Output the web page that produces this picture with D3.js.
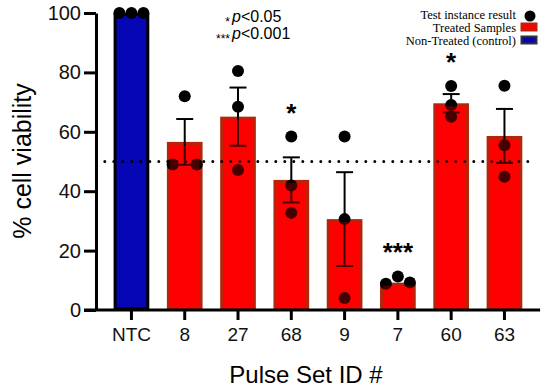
<!DOCTYPE html>
<html>
<head>
<meta charset="utf-8">
<script src="https://cdn.jsdelivr.net/npm/d3@7"></script>
<style>
  body { margin: 0; background: #fff; }
  svg { display: block; }
  .tick text { font-family: "Liberation Sans", Arial, sans-serif; fill: #111; }
</style>
</head>
<body>
<div id="chart"></div>
<script>
const categories = ['NTC', '8', '27', '68', '9', '7', '60', '63'];
const means = [100, 56.6, 65.1, 43.8, 30.6, 9.2, 69.6, 58.6];
const sems = [0, 7.7, 9.8, 7.6, 15.8, 1.0, 3.1, 9.1];
const points = [
    [100, 100, 100],
    [49, 72, 49],
    [80.5, 68.4, 47.1],
    [58.4, 41.9, 32.7],
    [58.4, 30.6, 4.0],
    [8.8, 11.3, 9.3],
    [75.4, 69.0, 65.1],
    [75.5, 55.5, 44.9]
];
const spread = [true, true, false, false, false, true, false, false];
const stars = ['', '', '', '*', '', '***', '*', ''];
const yTicks = [0, 20, 40, 60, 80, 100];
const threshold = 50;

const svgWidth = 550;
const svgHeight = 392;
const axisX = 96;

const svg = d3.select('#chart')
    .append('svg')
    .attr('width', svgWidth)
    .attr('height', svgHeight);

const xScale = d3.scaleBand()
    .domain(categories)
    .range([104.8, 531.1])
    .paddingInner(0.33)
    .paddingOuter(0.165);

const yScale = d3.scaleLinear()
    .domain([0, 100])
    .range([310, 13]);

const cx = d => xScale(d) + xScale.bandwidth() / 2;

// bars
const bars = svg.append('g');
bars.selectAll('rect')
    .data(categories)
    .enter()
    .append('rect')
    .attr('x', d => xScale(d) + 1.5)
    .attr('y', (d, i) => yScale(means[i]) + 1.5)
    .attr('width', xScale.bandwidth() - 3)
    .attr('height', (d, i) => yScale(0) - yScale(means[i]) - 3)
    .attr('fill', (d, i) => i === 0 ? '#0606b4' : '#ff0000')
    .attr('stroke', (d, i) => i === 0 ? '#000' : '#b3260c')
    .attr('stroke-width', 3);

// threshold line
svg.append('line')
    .attr('x1', xScale.range()[0])
    .attr('x2', xScale.range()[1] + 2)
    .attr('y1', yScale(threshold))
    .attr('y2', yScale(threshold))
    .attr('stroke', '#000')
    .attr('stroke-width', 3)
    .attr('stroke-linecap', 'round')
    .attr('stroke-dasharray', '0 9');

// error bars
const err = svg.append('g')
    .attr('stroke', '#000')
    .attr('stroke-width', 2);
categories.forEach((c, i) => {
    if (sems[i] < 2) return;
    const lo = yScale(means[i] - sems[i]);
    const hi = yScale(means[i] + sems[i]);
    err.append('line').attr('x1', cx(c)).attr('x2', cx(c)).attr('y1', lo).attr('y2', hi);
    err.append('line').attr('x1', cx(c) - 8.5).attr('x2', cx(c) + 8.5).attr('y1', hi).attr('y2', hi);
    err.append('line').attr('x1', cx(c) - 8.5).attr('x2', cx(c) + 8.5).attr('y1', lo).attr('y2', lo);
});

// points
const dots = [];
categories.forEach((c, i) => {
    points[i].forEach((v, j) => {
        dots.push({ c: c, v: v, off: spread[i] ? (j - 1) * 12 : 0 });
    });
});
svg.append('g')
    .selectAll('circle')
    .data(dots)
    .enter()
    .append('circle')
    .attr('cx', d => cx(d.c) + d.off)
    .attr('cy', d => yScale(d.v))
    .attr('r', 6)
    .attr('fill', '#000');

// red tint over the parts inside treated bars
svg.append('g')
    .selectAll('rect')
    .data(categories.slice(1))
    .enter()
    .append('rect')
    .attr('x', d => xScale(d) + 3)
    .attr('y', d => yScale(means[categories.indexOf(d)]) + 3)
    .attr('width', xScale.bandwidth() - 6)
    .attr('height', d => yScale(0) - yScale(means[categories.indexOf(d)]) - 6)
    .attr('fill', '#ff0000')
    .attr('opacity', 0.28);

// significance stars
svg.append('g')
    .selectAll('text')
    .data(categories.filter((c, i) => stars[i]))
    .enter()
    .append('text')
    .attr('x', d => cx(d))
    .attr('y', d => yScale(d3.max(points[categories.indexOf(d)])) - 15)
    .attr('text-anchor', 'middle')
    .attr('font-family', 'Liberation Sans, Arial, sans-serif')
    .attr('font-weight', 'bold')
    .attr('font-size', 26)
    .text(d => stars[categories.indexOf(d)]);

// axes
const yAxis = d3.axisLeft(yScale)
    .tickValues(yTicks)
    .tickSize(12)
    .tickSizeOuter(0)
    .tickPadding(3);
const yG = svg.append('g')
    .attr('transform', `translate(${axisX}, 0)`)
    .call(yAxis);
yG.selectAll('line, path').attr('stroke', '#000').attr('stroke-width', 3);
yG.selectAll('text').attr('font-size', 20);

const xAxis = d3.axisBottom(xScale)
    .tickSize(10)
    .tickSizeOuter(0)
    .tickPadding(8);
const xG = svg.append('g')
    .attr('transform', `translate(0, ${yScale(0)})`)
    .call(xAxis);
xG.select('.domain').remove();
xG.selectAll('line').attr('stroke', '#000').attr('stroke-width', 3);
xG.selectAll('text').attr('font-size', 19);
svg.append('line')
    .attr('x1', axisX - 12)
    .attr('x2', xScale.range()[1] + 9)
    .attr('y1', yScale(0))
    .attr('y2', yScale(0))
    .attr('stroke', '#000')
    .attr('stroke-width', 3);

// axis titles
svg.append('text')
    .attr('x', 306)
    .attr('y', 383)
    .attr('text-anchor', 'middle')
    .attr('font-family', 'Liberation Sans, Arial, sans-serif')
    .attr('font-size', 24)
    .text('Pulse Set ID #');

svg.append('text')
    .attr('transform', 'translate(31, 161) rotate(-90)')
    .attr('text-anchor', 'middle')
    .attr('font-family', 'Liberation Sans, Arial, sans-serif')
    .attr('font-size', 25)
    .text('% cell viability');

// p-value notes
const notes = [['*', 'p<0.05'], ['***', 'p<0.001']];
notes.forEach((n, i) => {
    const t = svg.append('text')
        .attr('x', 232)
        .attr('y', 22 + i * 17)
        .attr('font-family', 'Liberation Sans, Arial, sans-serif')
        .attr('font-size', 16);
    t.append('tspan').attr('font-style', 'italic').text('p');
    t.append('tspan').text(n[1].slice(1));
    svg.append('text')
        .attr('x', 230)
        .attr('y', 26 + i * 17)
        .attr('text-anchor', 'end')
        .attr('font-family', 'Liberation Sans, Arial, sans-serif')
        .attr('font-size', 12)
        .text(n[0]);
});

// legend
const legendItems = ['Test instance result', 'Treated Samples', 'Non-Treated (control)'];
const legend = svg.append('g');
legendItems.forEach((label, i) => {
    const y = 19 + i * 13;
    legend.append('text')
        .attr('x', 516)
        .attr('y', y)
        .attr('text-anchor', 'end')
        .attr('font-family', 'Liberation Serif, Times New Roman, serif')
        .attr('font-size', 12.5)
        .text(label);
    if (i === 0) {
        legend.append('circle').attr('cx', 530).attr('cy', y - 3).attr('r', 5.5).attr('fill', '#000');
    } else {
        legend.append('rect')
            .attr('x', 521.5).attr('y', y - 8.5)
            .attr('width', 15).attr('height', 7)
            .attr('fill', i === 1 ? '#ff0000' : '#0606b4')
            .attr('stroke', i === 1 ? '#b3260c' : '#333')
            .attr('stroke-width', 2);
    }
});
</script>
</body>
</html>
